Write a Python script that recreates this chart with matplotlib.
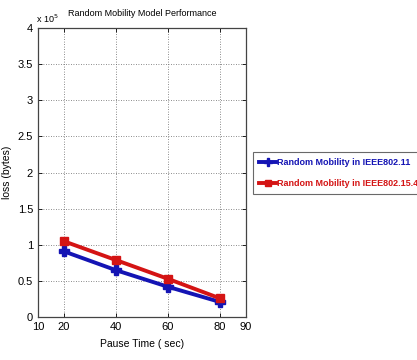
import matplotlib

matplotlib.use("Agg")
import matplotlib.pyplot as plt
from matplotlib import font_manager

pause_time = [20, 40, 60, 80]
loss_80211 = [0.91e5, 0.65e5, 0.42e5, 0.21e5]
loss_802154 = [1.05e5, 0.79e5, 0.53e5, 0.26e5]
series_labels = ["Random Mobility in IEEE802.11", "Random Mobility in IEEE802.15.4"]
x_ticks = [10, 20, 40, 60, 80, 90]

names = {f.name for f in font_manager.fontManager.ttflist}
narrow = "Liberation Sans Narrow" if "Liberation Sans Narrow" in names else "Liberation Sans"
plt.rcParams["font.family"] = [narrow, "DejaVu Sans"]

BLUE = "#1414b4"
RED = "#d41414"

fig = plt.figure(figsize=(4.17, 3.6), dpi=100)
ax = fig.add_axes([0.091, 0.119, 0.499, 0.803])

l1, = ax.plot(pause_time, loss_80211, color=BLUE, linewidth=2.8, marker="P",
              markersize=7, label=series_labels[0])
l2, = ax.plot(pause_time, loss_802154, color=RED, linewidth=2.8, marker="s",
              markersize=6, label=series_labels[1])

ax.set_xlim(10, 90)
ax.set_ylim(0, 4e5)
ax.set_xticks(x_ticks)
ax.set_yticks([i * 0.5e5 for i in range(9)])
ax.set_yticklabels(["0", "0.5", "1", "1.5", "2", "2.5", "3", "3.5", "4"])
ax.tick_params(labelsize=8, direction="in", length=3, width=0.6,
               top=True, right=True)
ax.text(-0.01, 1.01, r"x 10$^5$", transform=ax.transAxes, fontsize=6.5,
        ha="left", va="bottom")

# dotted grid only at the data columns and inner y ticks
for x in pause_time:
    ax.axvline(x, color="#666666", linestyle=(0, (1, 2)), linewidth=0.6, zorder=0)
for y in ax.get_yticks()[1:-1]:
    ax.axhline(y, color="#666666", linestyle=(0, (1, 2)), linewidth=0.6, zorder=0)
for s in ax.spines.values():
    s.set_color("#444444")
    s.set_linewidth(0.9)

ax.set_title("Random Mobility Model Performance", fontsize=6.5, pad=9)
ax.set_xlabel("Pause Time ( sec)", fontsize=7.5, labelpad=5)
ax.set_ylabel("loss (bytes)", fontsize=7.5, labelpad=4)

leg = fig.legend(handles=[l1, l2], loc="upper left", bbox_to_anchor=(0.607, 0.578),
                 frameon=True, fancybox=False, edgecolor="#444444",
                 handlelength=1.8, handletextpad=0.1, borderpad=0.7, labelspacing=1.3,
                 borderaxespad=0.0, markerscale=0.8,
                 prop={"weight": "bold", "size": 6.5})
leg.get_frame().set_linewidth(0.8)
for txt, c in zip(leg.get_texts(), [BLUE, RED]):
    txt.set_color(c)

fig.savefig("out.png", dpi=100)
